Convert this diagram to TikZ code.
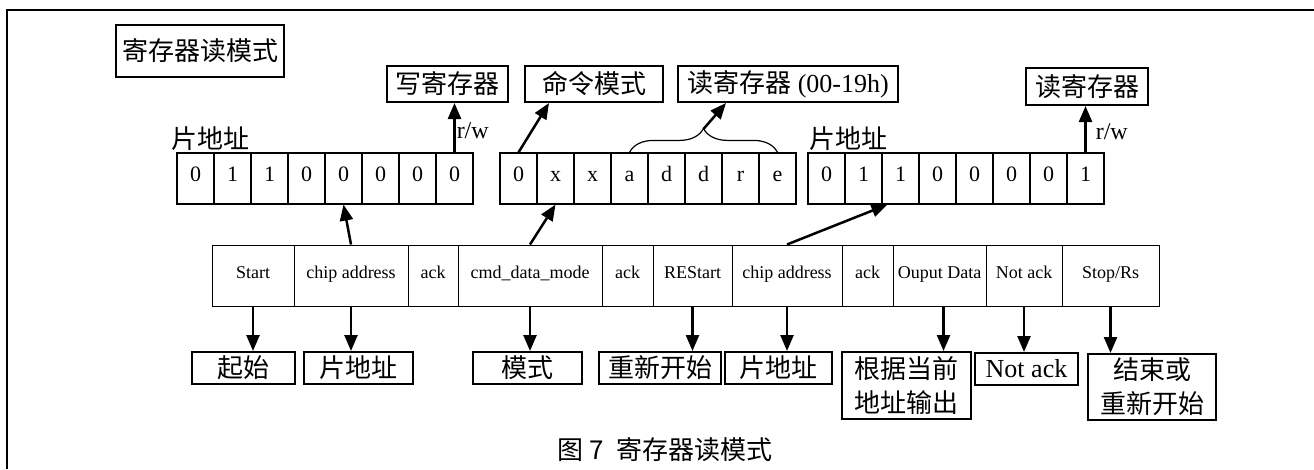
\documentclass[tikz,border=0pt]{standalone}
\usepackage{fontspec}
\setmainfont{Liberation Serif}
\newfontfamily\cjk{Noto Sans CJK SC}
\usetikzlibrary{arrows.meta, decorations.pathreplacing}

\begin{document}
\begin{tikzpicture}[x=1pt, y=-1pt,
    box/.style={draw, line width=2pt, inner sep=0pt, align=center,
      font=\cjk\fontsize{26}{34}\selectfont},
    bit/.style={draw, line width=1.2pt, minimum width=37pt, minimum height=51pt,
      inner sep=0pt, text height=0.68em, text depth=0pt, font=\fontsize{22}{22}\selectfont},
    cell/.style={draw, line width=1pt, minimum height=61pt, inner sep=0pt,
      text height=0.68em, text depth=0pt, font=\fontsize{18}{18}\selectfont},
    arr/.style={-{Triangle[length=16pt,width=13pt]}, line width=2.5pt}]
    \useasboundingbox (0,0) rectangle (1314,469);

    % frame
    \draw[line width=2.5pt] (7,469) -- (7,10) -- (1314,10);

    % top boxes
    \node[box, minimum width=168pt, minimum height=52pt] (title) at (200,51) {寄存器读模式};
    \node[box, minimum width=121pt, minimum height=36pt] (wr) at (447.5,84) {写寄存器};
    \node[box, minimum width=138pt, minimum height=36pt] (mode) at (594,84) {命令模式};
    \node[box, minimum width=220pt, minimum height=36pt] (rdreg) at (788,84) {读寄存器{\rmfamily\ (00-19h)}};
    \node[box, minimum width=122pt, minimum height=37pt] (rd) at (1087,86.5) {读寄存器};

    % bit cells
    \foreach \b [count=\i] in {0,1,1,0,0,0,0,0}
        \node[bit] (p\i) at (158.5+37*\i, 178.5) {\b};
    \foreach \b [count=\i] in {0,x,x,a,d,d,r,e}
        \node[bit] (q\i) at (481.5+37*\i, 178.5) {\b};
    \foreach \b [count=\i] in {0,1,1,0,0,0,0,1}
        \node[bit] (r\i) at (789.5+37*\i, 178.5) {\b};

    \node[font=\cjk\fontsize{26}{26}\selectfont] (chip1) at (210,139) {片地址};
    \node[font=\cjk\fontsize{26}{26}\selectfont] (chip2) at (848,139) {片地址};

    % control row
    \foreach \l/\r/\t [count=\i] in {212/294/Start, 294/408/chip address, 408/458/ack,
        458/602/cmd\_data\_mode, 602/653/ack, 653/732/REStart, 732/842/chip address,
        842/893/ack, 893/986/Ouput Data, 986/1062/Not ack, 1062/1159/{Stop/Rs}}
        \node[cell, minimum width={(\r-\l)*1pt}] (c\i) at ({(\l+\r)/2}, 275.5) {\t};

    % bottom boxes
    \node[box, minimum width=103pt, minimum height=32pt, anchor=north] (b1) at (243.5,351) {起始};
    \node[box, minimum width=109pt, minimum height=32pt, anchor=north] (b2) at (358.5,351) {片地址};
    \node[box, minimum width=109pt, minimum height=32pt, anchor=north] (b3) at (527.5,351) {模式};
    \node[box, minimum width=122pt, minimum height=32pt, anchor=north] (b4) at (660,351) {重新开始};
    \node[box, minimum width=107pt, minimum height=32pt, anchor=north] (b5) at (778.5,351) {片地址};
    \node[box, minimum width=129pt, minimum height=67pt, anchor=north] (b6) at (906.5,351) {根据当前\\地址输出};
    \node[box, minimum width=103pt, minimum height=32pt, anchor=north] (b7) at (1026.5,352) {\rmfamily Not ack};
    \node[box, minimum width=128pt, minimum height=66pt, anchor=north] (b8) at (1152,353) {结束或\\重新开始};

    \foreach \i/\j in {1/1, 2/2, 4/3, 6/4, 7/5, 10/7, 11/8}
        \draw[arr] (c\i.south) -- (c\i.south |- b\j.north);
    \draw[arr] ([xshift=4pt]c9.south) -- ([xshift=4pt]c9.south |- b6.north);

    % up arrows
    \draw[arr] (c2.north) -- (p5.south);
    \draw[arr] (c4.north) -- (q2.south);
    \draw[arr] (c7.north) -- ([xshift=6pt]r3.south west);
    \draw[arr] (p8.north) -- node[right, inner sep=1pt, yshift=-3pt, font=\fontsize{24}{24}\selectfont] {r/w} (p8.north |- wr.south);
    \draw[arr] (r8.north) -- node[right, inner sep=9pt, yshift=-3pt, font=\fontsize{24}{24}\selectfont] {r/w} (r8.north |- rd.south);
    \draw[arr] (q1.north) -- ([xshift=25pt]mode.south west);

    \draw[line width=1.2pt, decorate, decoration={brace, amplitude=24pt}] (q4.north) -- (q8.north);
    \coordinate (tip) at (703.5,129);
    \draw[arr] (tip) -- ([xshift=49pt]rdreg.south west);

    \node[font=\cjk\fontsize{26}{26}\selectfont] (cap) at (665,450) {图\hspace{6pt}7\hspace{12pt}寄存器读模式};
\end{tikzpicture}
\end{document}
